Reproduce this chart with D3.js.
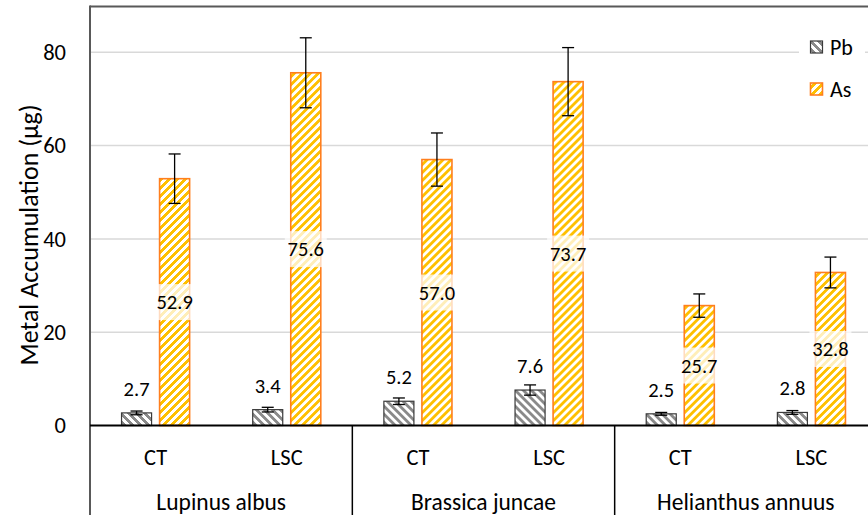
<!DOCTYPE html>
<html>
<head>
<meta charset="utf-8">
<script src="https://cdn.jsdelivr.net/npm/d3@7"></script>
<style>
  html, body { margin: 0; padding: 0; background: #fff; }
  svg { display: block; font-family: Carlito, Calibri, Lato, sans-serif; }
</style>
</head>
<body>
<svg id="chart" width="868" height="515"></svg>
<script>
// Plant species (outer category level) and treatments (inner level)
const species = ["Lupinus albus", "Brassica juncae", "Helianthus annuus"];
const treatments = ["CT", "LSC"];
const metals = ["Pb", "As"];

// Mean accumulation (µg), ordered species × treatment
const pbValues = [2.7, 3.4, 5.2, 7.6, 2.5, 2.8];
const asValues = [52.9, 75.6, 57.0, 73.7, 25.7, 32.8];
// Standard errors
const pbErrors = [0.4, 0.5, 0.7, 1.1, 0.3, 0.4];
const asErrors = [5.3, 7.5, 5.7, 7.3, 2.5, 3.3];

const yTicks = [0, 20, 40, 60, 80];
const yMax = 90;

const rows = [];
species.forEach((sp, i) => {
  treatments.forEach((tr, j) => {
    const k = i * treatments.length + j;
    rows.push({ sp, tr, Pb: pbValues[k], As: asValues[k], PbErr: pbErrors[k], AsErr: asErrors[k] });
  });
});

const svg = d3.select("#chart");
const plot = { left: 90, right: 877, top: 5.6, bottom: 425.5, axisBottom: 515 };

const y = d3.scaleLinear().domain([0, yMax]).range([plot.bottom, plot.top]);
const xGroup = d3.scaleBand().domain(species).range([plot.left, plot.right]);
const xTreat = d3.scaleBand().domain(treatments).range([0, xGroup.bandwidth()]);
const xMetal = d3.scaleBand().domain(metals).range([0, xTreat.bandwidth()])
  .paddingInner(0.2105).paddingOuter(0.829);

// Hatch fills: 8×8 pixel diagonal stripes
const defs = svg.append("defs");
function hatch(id, color, upward) {
  const p = defs.append("pattern").attr("id", id)
    .attr("patternUnits", "userSpaceOnUse").attr("width", 8).attr("height", 8);
  p.append("rect").attr("width", 8).attr("height", 8).attr("fill", "#fff");
  for (let r = 0; r < 8; r++) {
    for (let c = 0; c < 8; c++) {
      const m = upward ? (c + r) % 8 : ((c - r) % 8 + 8) % 8;
      if (m < 4) p.append("rect").attr("x", c).attr("y", r).attr("width", 1).attr("height", 1)
        .attr("fill", color).attr("shape-rendering", "crispEdges");
    }
  }
}
hatch("hatchPb", "#8a8a8a", false);
hatch("hatchAs", "#ffc000", true);

const style = {
  Pb: { fill: "url(#hatchPb)", stroke: "#3a3a3a", sw: 1.2 },
  As: { fill: "url(#hatchAs)", stroke: "#ff7f1e", sw: 1.6 }
};

// Gridlines
svg.append("g").selectAll("line").data(yTicks.filter(t => t > 0)).join("line")
  .attr("x1", plot.left).attr("x2", 868)
  .attr("y1", d => y(d)).attr("y2", d => y(d))
  .attr("stroke", "#d9d9d9").attr("stroke-width", 1.5);

// Y axis tick labels
const yAxis = d3.axisLeft(y).tickValues(yTicks).tickSize(0).tickPadding(24);
const gy = svg.append("g").attr("transform", `translate(${plot.left},0)`).call(yAxis);
gy.select(".domain").remove();
gy.selectAll("text").attr("font-size", 22.5).attr("fill", "#000")
  .attr("font-family", "Carlito, Calibri, Lato, sans-serif");

// Y axis title
svg.append("text")
  .attr("transform", "translate(29,235) rotate(-90)")
  .attr("text-anchor", "middle").attr("dominant-baseline", "central")
  .attr("font-size", 26).attr("fill", "#000")
  .text("Metal Accumulation (μg)");

// Bars
const cell = svg.append("g").selectAll("g").data(rows).join("g")
  .attr("transform", d => `translate(${xGroup(d.sp) + xTreat(d.tr)},0)`);

metals.forEach(m => {
  cell.append("rect")
    .attr("x", xMetal(m)).attr("width", xMetal.bandwidth())
    .attr("y", d => y(d[m])).attr("height", d => y(0) - y(d[m]))
    .attr("fill", style[m].fill).attr("stroke", style[m].stroke)
    .attr("stroke-width", style[m].sw);
});

// Error bars
metals.forEach(m => {
  const cx = xMetal(m) + xMetal.bandwidth() / 2;
  const eb = cell.append("g").attr("stroke", "#000").attr("stroke-width", 1.3);
  eb.append("line").attr("x1", cx).attr("x2", cx)
    .attr("y1", d => y(d[m] + d[m + "Err"])).attr("y2", d => y(d[m] - d[m + "Err"]));
  ["+", "-"].forEach(s => {
    eb.append("line").attr("x1", cx - 6).attr("x2", cx + 6)
      .attr("y1", d => y(s === "+" ? d[m] + d[m + "Err"] : d[m] - d[m + "Err"]))
      .attr("y2", d => y(s === "+" ? d[m] + d[m + "Err"] : d[m] - d[m + "Err"]));
  });
});

// Pb value labels above bars
cell.append("text")
  .attr("x", xMetal("Pb") + xMetal.bandwidth() / 2)
  .attr("y", d => y(d.Pb) - 17)
  .attr("text-anchor", "middle").attr("font-size", 20.5).attr("fill", "#000")
  .text(d => d.Pb.toFixed(1));

// As value labels centred in bars on a translucent box
const asLab = cell.append("g")
  .attr("transform", d => `translate(${xMetal("As") + xMetal.bandwidth() / 2},${(y(d.As) + y(0)) / 2})`);
asLab.append("rect").attr("x", -21).attr("y", -18).attr("width", 42).attr("height", 36)
  .attr("fill", "#fff").attr("fill-opacity", 0.72);
asLab.append("text").attr("text-anchor", "middle").attr("dominant-baseline", "central")
  .attr("font-size", 20.5).attr("fill", "#000")
  .text(d => d.As.toFixed(1));

// Plot frame: top and left edges
svg.append("line").attr("x1", plot.left).attr("x2", 868).attr("y1", plot.top + 1).attr("y2", plot.top + 1)
  .attr("stroke", "#595959").attr("stroke-width", 2);
svg.append("line").attr("x1", plot.left).attr("x2", plot.left).attr("y1", plot.top).attr("y2", plot.axisBottom)
  .attr("stroke", "#595959").attr("stroke-width", 2);

// Category axis line and group dividers
svg.append("line").attr("x1", plot.left).attr("x2", 868).attr("y1", y(0)).attr("y2", y(0))
  .attr("stroke", "#000").attr("stroke-width", 2);
svg.append("g").selectAll("line").data(species.slice(1)).join("line")
  .attr("x1", d => xGroup(d)).attr("x2", d => xGroup(d))
  .attr("y1", y(0)).attr("y2", plot.axisBottom)
  .attr("stroke", "#000").attr("stroke-width", 1.5);

// Treatment labels
svg.append("g").selectAll("text").data(rows).join("text")
  .attr("x", d => xGroup(d.sp) + xTreat(d.tr) + xTreat.bandwidth() / 2)
  .attr("y", 465).attr("text-anchor", "middle").attr("font-size", 22.5).attr("fill", "#000")
  .text(d => d.tr);

// Species labels
svg.append("g").selectAll("text").data(species).join("text")
  .attr("x", d => xGroup(d) + xGroup.bandwidth() / 2)
  .attr("y", 510).attr("text-anchor", "middle").attr("font-size", 23.5).attr("fill", "#000")
  .text(d => d);

// Legend
const legend = svg.append("g");
legend.append("rect").attr("x", 799).attr("y", 30).attr("width", 66).attr("height", 76).attr("fill", "#fff");
metals.forEach((m, i) => {
  const ly = 47 + i * 42;
  legend.append("rect").attr("x", 810.5).attr("y", ly - 6).attr("width", 12).attr("height", 12)
    .attr("fill", style[m].fill).attr("stroke", style[m].stroke).attr("stroke-width", style[m].sw);
  legend.append("text").attr("x", 830).attr("y", ly).attr("dominant-baseline", "central")
    .attr("font-size", 22).attr("fill", "#000").text(m);
});
</script>
</body>
</html>
